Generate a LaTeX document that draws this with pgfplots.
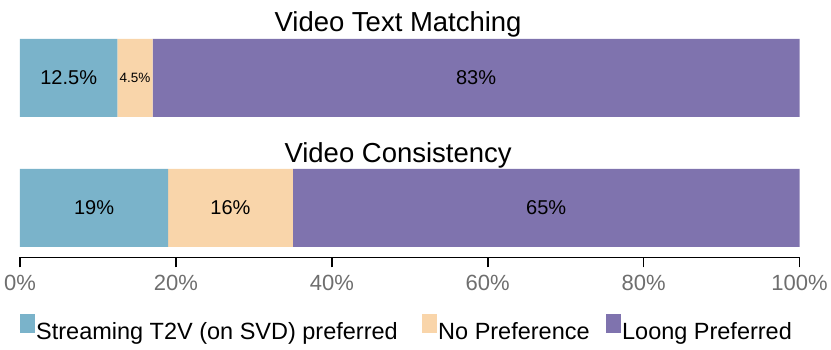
\documentclass[border=0pt]{standalone}
\usepackage{fontspec}
\setmainfont{Liberation Sans}
\usepackage{pgfplots}
\pgfplotsset{compat=1.18}
\definecolor{cblue}{RGB}{122,179,202}
\definecolor{cpeach}{RGB}{249,213,170}
\definecolor{cpurple}{RGB}{127,115,174}
\definecolor{tickgray}{RGB}{110,110,110}
\begin{document}
\begin{tikzpicture}[x=1pt,y=1pt]
\path (0,0) rectangle (831,350);
\begin{axis}[
 at={(20pt,92.5pt)}, anchor=south west,
 scale only axis, width=780pt, height=218.5pt,
 xmin=0, xmax=100, ymin=-0.3808, ymax=1.3,
 xbar stacked, bar width=78pt,
 clip=false,
 axis x line*=bottom, axis y line=none,
 axis line style={-, line width=1.6pt, black},
 xtick={0,20,40,60,80,100},
 xticklabels={0\%,20\%,40\%,60\%,80\%,100\%},
 xtick style={line width=1.6pt, black},
 major tick length=10pt, tick align=outside,
 xticklabel style={font=\fontsize{22}{26}\selectfont, text=tickgray, yshift=-4pt},
 ytick=\empty,
 legend columns=3,
 legend style={at={(0,-0.259)}, anchor=north west, draw=none, fill=none, inner sep=0pt,
   font=\fontsize{23.5}{27}\selectfont,
   nodes={inner sep=1.5pt},
   /tikz/column 2/.style={column sep=23pt},
   /tikz/column 4/.style={column sep=15pt}},
 legend image code/.code={\fill[#1] (0pt,-1pt) rectangle (14.5pt,18pt);},
]
\addplot[fill=cblue, draw=none] coordinates {(19,0) (12.5,1)};
\addplot[fill=cpeach, draw=none] coordinates {(16,0) (4.5,1)};
\addplot[fill=cpurple, draw=none] coordinates {(65,0) (83,1)};
\legend{Streaming T2V (on SVD) preferred, No Preference, Loong Preferred}
\coordinate (a1) at (axis cs:6.25,1);
\coordinate (a2) at (axis cs:14.75,1);
\coordinate (a3) at (axis cs:58.5,1);
\coordinate (b1) at (axis cs:9.5,0);
\coordinate (b2) at (axis cs:27,0);
\coordinate (b3) at (axis cs:67.5,0);
\coordinate (t1) at (axis cs:48.5,1.354);
\coordinate (t2) at (axis cs:48.5,0.346);
\end{axis}
\node[font=\fontsize{20}{24}\selectfont] at (a1) {12.5\%};
\node[font=\fontsize{13.5}{16}\selectfont] at (a2) {4.5\%};
\node[font=\fontsize{20}{24}\selectfont] at (a3) {83\%};
\node[font=\fontsize{20}{24}\selectfont] at (b1) {19\%};
\node[font=\fontsize{20}{24}\selectfont] at (b2) {16\%};
\node[font=\fontsize{20}{24}\selectfont] at (b3) {65\%};
\node[font=\fontsize{27.5}{32}\selectfont, anchor=base] at (t1) {Video Text Matching};
\node[font=\fontsize{27.5}{32}\selectfont, anchor=base] at (t2) {Video Consistency};
\end{tikzpicture}
\end{document}
